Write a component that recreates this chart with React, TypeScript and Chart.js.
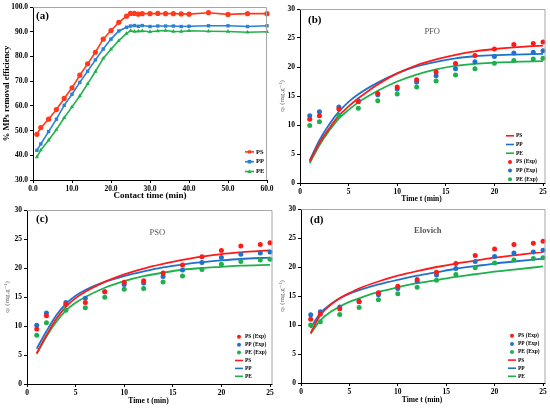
import { useEffect, useRef } from 'react';
import Chart from 'chart.js/auto';

// Four panels: (a) removal efficiency vs contact time, (b)-(d) kinetic fits.
const SERIF = '"Liberation Serif", "DejaVu Serif", "Times New Roman", serif';
const RED = '#ff1a1a';
const BLUE = '#1f72cc';
const GREEN = '#1db04c';
const FRAME = '#a6a6a6';

// (a) % removal efficiency
const CONTACT_TIME = [1, 2, 4, 6, 8, 10, 12, 14, 16, 18, 20, 22, 24, 25, 26, 27, 28, 30, 32, 34, 36, 38, 40, 45, 50, 55, 60];
const EFF_PS = [48.5, 51.2, 54.6, 58.5, 63.0, 67.3, 72.4, 77.0, 81.7, 87.0, 90.5, 93.8, 96.3, 97.4, 97.4, 97.1, 97.3, 97.3, 97.4, 97.3, 97.3, 97.2, 97.1, 97.7, 97.0, 97.3, 97.3];
const EFF_PP = [42.0, 44.6, 49.6, 54.6, 60.2, 64.7, 69.5, 74.0, 78.6, 83.0, 87.0, 90.3, 91.8, 92.3, 92.5, 92.2, 92.5, 92.1, 92.3, 92.3, 92.3, 92.1, 92.2, 92.4, 92.4, 92.1, 92.4];
const EFF_PE = [39.3, 42.1, 46.1, 50.4, 55.2, 59.6, 64.0, 68.9, 73.9, 79.2, 82.9, 86.4, 89.3, 90.4, 90.1, 90.2, 90.3, 90.0, 90.3, 90.5, 90.1, 90.1, 90.4, 90.2, 90.1, 89.8, 90.0];

// experimental q_t points
const EXP_TIME = [1, 2, 4, 6, 8, 10, 12, 14, 16, 18, 20, 22, 24, 25];
const PFO_EXP_PS = [11.0, 11.6, 12.75, 14.0, 15.45, 16.55, 17.8, 19.15, 20.6, 22.0, 23.1, 23.9, 24.05, 24.3];
const PFO_EXP_PP = [11.6, 12.3, 13.1, 14.2, 15.2, 16.2, 17.4, 18.5, 19.7, 20.9, 21.8, 22.4, 22.55, 22.8];
const PFO_EXP_PE = [9.9, 10.55, 11.7, 12.9, 14.2, 15.35, 16.55, 17.6, 18.6, 19.7, 20.65, 21.1, 21.4, 21.5];
const PSO_EXP_PS = [9.5, 11.75, 13.75, 14.05, 15.9, 17.55, 17.8, 19.15, 20.5, 21.95, 23.0, 23.8, 24.05, 24.35];
const PSO_EXP_PP = [10.15, 12.25, 14.05, 14.8, 15.9, 17.15, 17.4, 18.55, 19.65, 20.95, 21.8, 22.35, 22.6, 22.75];
const PSO_EXP_PE = [8.4, 10.55, 12.7, 13.15, 14.95, 16.35, 16.45, 17.6, 18.6, 19.75, 20.65, 21.1, 21.4, 21.5];
const ELO_EXP_PS = [11.0, 11.9, 12.8, 14.0, 15.55, 16.7, 17.85, 19.1, 20.6, 22.0, 23.1, 23.9, 24.1, 24.45];
const ELO_EXP_PP = [11.75, 12.3, 13.1, 14.1, 15.2, 16.3, 17.55, 18.6, 19.75, 20.95, 21.8, 22.4, 22.6, 22.9];
const ELO_EXP_PE = [10.0, 10.55, 11.8, 13.0, 14.35, 15.4, 16.5, 17.7, 18.7, 19.85, 20.7, 21.2, 21.45, 21.6];

// model curves
const FIT_TIME = [1, 2, 3, 4, 5, 6, 8, 10, 12, 14, 16, 18, 20, 22, 25];
const PFO_PS = [3.7, 6.9, 9.4, 11.6, 13.2, 14.6, 17.0, 18.9, 20.3, 21.3, 22.1, 22.7, 23.1, 23.4, 23.7];
const PFO_PP = [3.9, 7.4, 10.1, 12.3, 14.0, 15.3, 17.3, 18.9, 20.1, 20.9, 21.5, 21.85, 22.05, 22.15, 22.25];
const PFO_PE = [3.4, 6.5, 9.0, 11.1, 12.6, 13.9, 15.9, 17.5, 18.7, 19.6, 20.2, 20.55, 20.75, 20.9, 21.0];
const PSO_PS = [5.3, 8.4, 11.2, 13.3, 14.8, 15.9, 17.6, 18.9, 19.9, 20.7, 21.4, 21.95, 22.4, 22.7, 23.05];
const PSO_PP = [6.1, 9.1, 11.8, 13.8, 15.2, 16.2, 17.6, 18.6, 19.4, 20.1, 20.6, 21.0, 21.3, 21.55, 21.8];
const PSO_PE = [5.2, 8.2, 10.7, 12.65, 14.0, 15.0, 16.6, 17.75, 18.6, 19.2, 19.7, 20.0, 20.2, 20.4, 20.55];
const ELO_PS = [8.65, 11.7, 13.4, 14.6, 15.5, 16.3, 17.5, 18.5, 19.3, 20.0, 20.6, 21.1, 21.6, 22.0, 22.6];
const ELO_PP = [9.5, 12.05, 13.5, 14.6, 15.4, 16.0, 17.0, 17.8, 18.5, 19.1, 19.7, 20.15, 20.6, 20.95, 21.45];
const ELO_PE = [8.5, 10.8, 12.2, 13.2, 14.0, 14.6, 15.7, 16.5, 17.2, 17.75, 18.3, 18.75, 19.2, 19.55, 20.1];

const W = 550;
const H = 408;

type Marker = 'circle' | 'rect' | 'triangle' | 'none';
type LegendItem = { label: string; color: string; line: boolean; marker: Marker };
type Decor = {
  tag: string;
  tagDx: number;
  tagDy: number;
  frameDx: number;
  model?: { text: string; x: number; y: number; bold: boolean };
  legend: LegendItem[];
  legendRight: number;
  legendBottom: number;
  legendGap: number;
  legendFont: number;
  legendLine: number;
};

function drawMarker(ctx: CanvasRenderingContext2D, m: Marker, x: number, y: number, r: number, color: string) {
  ctx.fillStyle = color;
  ctx.beginPath();
  if (m === 'circle') ctx.arc(x, y, r, 0, Math.PI * 2);
  else if (m === 'rect') ctx.rect(x - r, y - r, r * 2, r * 2);
  else if (m === 'triangle') {
    ctx.moveTo(x, y - r * 1.2);
    ctx.lineTo(x + r * 1.1, y + r * 0.8);
    ctx.lineTo(x - r * 1.1, y + r * 0.8);
    ctx.closePath();
  }
  ctx.fill();
}

function decor(d: Decor) {
  return {
    id: 'decor',
    afterDraw(chart: any) {
      const { ctx, chartArea: a, scales } = chart;
      ctx.save();
      ctx.strokeStyle = FRAME;
      ctx.lineWidth = 1;
      ctx.beginPath();
      ctx.moveTo(a.left, a.top + 0.5);
      ctx.lineTo(a.right + d.frameDx - 0.5, a.top + 0.5);
      ctx.lineTo(a.right + d.frameDx - 0.5, a.bottom);
      ctx.stroke();
      if (d.frameDx > 0) {
        ctx.strokeStyle = '#000';
        ctx.beginPath();
        ctx.moveTo(a.right, a.bottom + 0.5);
        ctx.lineTo(a.right + d.frameDx, a.bottom + 0.5);
        ctx.stroke();
      }

      ctx.fillStyle = '#000';
      ctx.textBaseline = 'middle';
      ctx.textAlign = 'left';
      ctx.font = `bold 11px ${SERIF}`;
      ctx.fillText(d.tag, a.left + d.tagDx, a.top + d.tagDy);

      if (d.model) {
        ctx.fillStyle = '#555';
        ctx.textAlign = 'center';
        ctx.font = `${d.model.bold ? 'bold ' : ''}8.5px ${SERIF}`;
        ctx.fillText(d.model.text, scales.x.getPixelForValue(d.model.x), scales.y.getPixelForValue(d.model.y));
      }

      const n = d.legend.length;
      const tx = a.right - d.legendRight;
      d.legend.forEach((it, i) => {
        const y = a.bottom - d.legendBottom - (n - 1 - i) * d.legendGap;
        const cx = tx - 2 - d.legendLine / 2;
        if (it.line) {
          ctx.strokeStyle = it.color;
          ctx.lineWidth = 1.6;
          ctx.beginPath();
          ctx.moveTo(tx - 2 - d.legendLine, y);
          ctx.lineTo(tx - 2, y);
          ctx.stroke();
        }
        if (it.marker !== 'none') drawMarker(ctx, it.marker, cx, y, it.line ? 1.8 : 2, it.color);
        ctx.fillStyle = '#000';
        ctx.textAlign = 'left';
        ctx.font = `bold ${d.legendFont}px ${SERIF}`;
        ctx.fillText(it.label, tx, y);
      });
      ctx.restore();
    },
  };
}

type Rect = { l: number; t: number; r: number; b: number; yW: number; xH: number };

function axis(min: number, max: number, step: number, decimals: number, title: any, fit: (s: any) => void) {
  return {
    type: 'linear' as const,
    min,
    max,
    ticks: {
      stepSize: step,
      color: '#000',
      font: { family: SERIF, size: 7.5, weight: 'bold' as const },
      padding: 2,
      maxRotation: 0,
      autoSkip: false,
      callback: (v: any) => Number(v).toFixed(decimals),
    },
    grid: { display: true, drawOnChartArea: false, drawTicks: true, tickLength: 3, color: '#000' },
    border: { display: true, color: '#000', width: 1 },
    title,
    afterFit: fit,
  };
}

function baseOptions(rect: Rect, x: any, y: any) {
  return {
    responsive: false,
    animation: false as const,
    events: [],
    layout: {
      padding: { left: rect.l - rect.yW, top: rect.t, right: W - rect.r, bottom: H - rect.b - rect.xH },
    },
    plugins: { legend: { display: false }, tooltip: { enabled: false } },
    scales: { x, y },
  };
}

function pts(xs: number[], ys: number[]) {
  return xs.map((x, i) => ({ x, y: ys[i] }));
}

function effConfig() {
  const rect: Rect = { l: 33, t: 7, r: 267, b: 180, yW: 33, xH: 24 };
  const series: [string, number[], string, Marker][] = [
    ['PS', EFF_PS, '#ff3a1c', 'circle'],
    ['PP', EFF_PP, '#2b7fd6', 'rect'],
    ['PE', EFF_PE, '#21b14b', 'triangle'],
  ];
  return {
    type: 'line' as const,
    data: {
      datasets: series.map(([label, ys, color, m]) => ({
        label,
        data: pts(CONTACT_TIME, ys),
        borderColor: color,
        backgroundColor: color,
        borderWidth: 1.6,
        pointStyle: m,
        pointRadius: m === 'circle' ? 2.6 : 2.4,
        pointBorderWidth: 0,
        tension: 0,
        clip: false as const,
      })),
    },
    options: baseOptions(
      rect,
      axis(0, 60, 10, 1, {
        display: true,
        text: 'Contact time (min)',
        color: '#000',
        font: { family: SERIF, size: 9, weight: 'bold' },
        padding: { top: 0, bottom: 3 },
      }, (s) => { s.height = rect.xH; }),
      axis(30, 100, 10, 1, {
        display: true,
        text: '% MPs removal efficiency',
        color: '#000',
        font: { family: SERIF, size: 8.5, weight: 'bold' },
        padding: { top: 2, bottom: 0 },
      }, (s) => { s.width = rect.yW; }),
    ),
    plugins: [
      decor({
        tag: '(a)',
        tagDx: 3,
        tagDy: 9,
        frameDx: 0,
        legend: series.map(([label, , color, m]) => ({ label, color, line: true, marker: m })),
        legendRight: 11,
        legendBottom: 8.5,
        legendGap: 9.8,
        legendFont: 6.5,
        legendLine: 9,
      }),
    ],
  };
}

type Kin = {
  rect: Rect;
  tag: string;
  tagDx: number;
  tagDy: number;
  model: { text: string; x: number; y: number; bold: boolean };
  exp: [number[], number[], number[]];
  fit: [number[], number[], number[]];
  expFirst: boolean;
  legendRight: number;
  legendBottom: number;
  legendGap: number;
};

function kinConfig(k: Kin) {
  const names = ['PS', 'PP', 'PE'];
  const colors = [RED, BLUE, GREEN];
  const dots = k.exp.map((ys, i) => ({
    label: `${names[i]} (Exp)`,
    data: pts(EXP_TIME, ys),
    showLine: false,
    borderColor: colors[i],
    backgroundColor: colors[i],
    pointRadius: 2.5,
    pointBorderWidth: 0,
    clip: false as const,
  }));
  const lines = k.fit.map((ys, i) => ({
    label: names[i],
    data: pts(FIT_TIME, ys),
    borderColor: colors[i],
    backgroundColor: colors[i],
    borderWidth: 1.8,
    pointRadius: 0,
    cubicInterpolationMode: 'monotone' as const,
  }));
  const lineItems: LegendItem[] = names.map((n, i) => ({ label: n, color: colors[i], line: true, marker: 'none' }));
  const dotItems: LegendItem[] = names.map((n, i) => ({ label: `${n} (Exp)`, color: colors[i], line: false, marker: 'circle' }));
  const rect = k.rect;
  return {
    type: 'line' as const,
    data: { datasets: [...dots, ...lines] },
    options: baseOptions(
      rect,
      axis(0, 25, 5, 0, {
        display: true,
        text: 'Time t (min)',
        color: '#000',
        font: { family: SERIF, size: 7.5, weight: 'bold' },
        padding: 0,
      }, (s) => { s.height = rect.xH; }),
      axis(0, 30, 5, 0, {
        display: true,
        text: 'qₜ (mg.g⁻¹)',
        color: '#666',
        font: { family: SERIF, size: 7 },
        padding: { top: 3, bottom: 0 },
      }, (s) => { s.width = rect.yW; }),
    ),
    plugins: [
      decor({
        tag: k.tag,
        tagDx: k.tagDx,
        tagDy: k.tagDy,
        frameDx: 2.5,
        model: k.model,
        legend: k.expFirst ? [...dotItems, ...lineItems] : [...lineItems, ...dotItems],
        legendRight: k.legendRight,
        legendBottom: k.legendBottom,
        legendGap: k.legendGap,
        legendFont: 5.5,
        legendLine: 8,
      }),
    ],
  };
}

function Panel({ build }: { build: () => any }) {
  const ref = useRef<HTMLCanvasElement | null>(null);
  useEffect(() => {
    if (!ref.current) return;
    const chart = new Chart(ref.current, build());
    return () => chart.destroy();
  }, [build]);
  return <canvas ref={ref} width={W} height={H} style={{ position: 'absolute', left: 0, top: 0 }} />;
}

const buildA = () => effConfig();
const buildB = () =>
  kinConfig({
    rect: { l: 300, t: 9, r: 543, b: 183, yW: 25, xH: 21 },
    tag: '(b)',
    tagDx: 8,
    tagDy: 11,
    model: { text: 'PFO', x: 13.6, y: 26.1, bold: false },
    exp: [PFO_EXP_PS, PFO_EXP_PP, PFO_EXP_PE],
    fit: [PFO_PS, PFO_PP, PFO_PE],
    expFirst: false,
    legendRight: 27,
    legendBottom: 3.7,
    legendGap: 8.7,
  });
const buildC = () =>
  kinConfig({
    rect: { l: 27, t: 210, r: 270, b: 384, yW: 27, xH: 22 },
    tag: '(c)',
    tagDx: 9,
    tagDy: 9,
    model: { text: 'PSO', x: 13.4, y: 26.0, bold: false },
    exp: [PSO_EXP_PS, PSO_EXP_PP, PSO_EXP_PE],
    fit: [PSO_PS, PSO_PP, PSO_PE],
    expFirst: true,
    legendRight: 25,
    legendBottom: 7.7,
    legendGap: 7.9,
  });
const buildD = () =>
  kinConfig({
    rect: { l: 301, t: 209, r: 543, b: 383, yW: 26, xH: 22 },
    tag: '(d)',
    tagDx: 9,
    tagDy: 11.5,
    model: { text: 'Elovich', x: 13.1, y: 26.3, bold: true },
    exp: [ELO_EXP_PS, ELO_EXP_PP, ELO_EXP_PE],
    fit: [ELO_PS, ELO_PP, ELO_PE],
    expFirst: true,
    legendRight: 25,
    legendBottom: 6.7,
    legendGap: 8.1,
  });

export default function App() {
  return (
    <div style={{ position: 'fixed', left: 0, top: 0, width: W, height: H, background: '#fff' }}>
      <Panel build={buildA} />
      <Panel build={buildB} />
      <Panel build={buildC} />
      <Panel build={buildD} />
    </div>
  );
}
